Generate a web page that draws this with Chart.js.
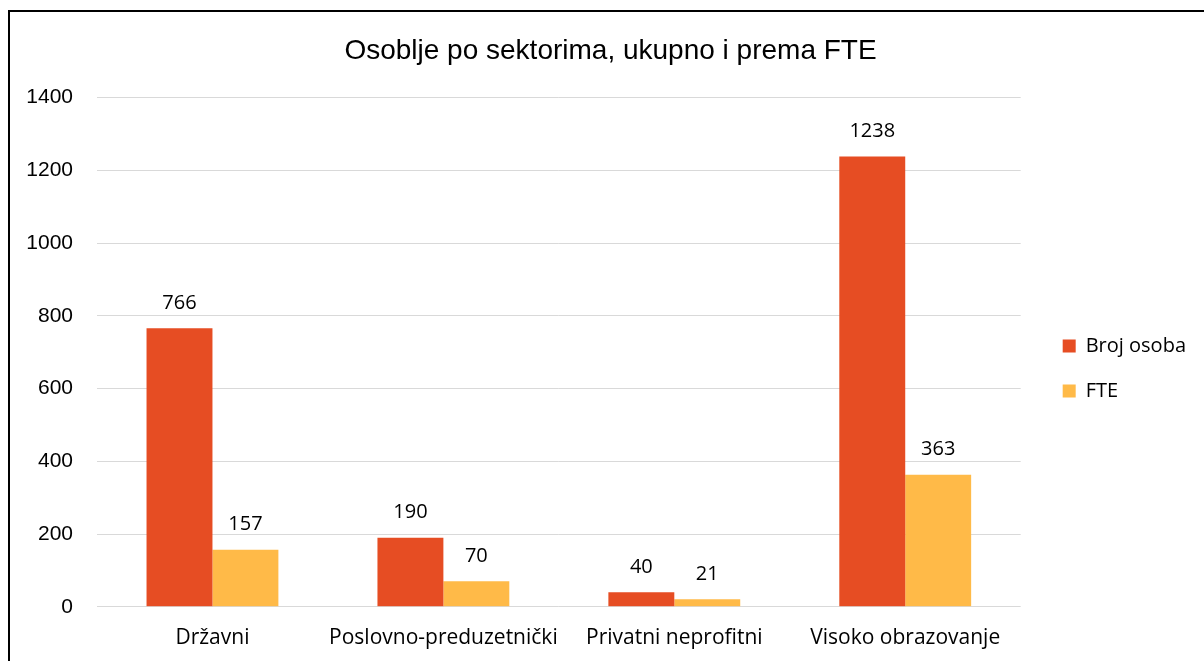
<!DOCTYPE html>
<html>
<head>
<meta charset="utf-8">
<title>Osoblje po sektorima</title>
<script src="https://cdn.jsdelivr.net/npm/chart.js@4.4.1/dist/chart.umd.min.js"></script>
<style>
    html, body { margin: 0; padding: 0; background: #fff; overflow: hidden; }
    #wrap { position: relative; width: 1204px; height: 661px; }
    #frame {
        position: absolute; left: 8px; top: 10px; width: 1400px; height: 900px;
        border-top: 2px solid #000; border-left: 2px solid #000;
        pointer-events: none;
    }
</style>
</head>
<body>
<div id="wrap">
    <canvas id="staffChart" width="1204" height="661"></canvas>
    <div id="frame"></div>
</div>
<script>
// Sectors and values
const sectors = ['Državni', 'Poslovno-preduzetnički', 'Privatni neprofitni', 'Visoko obrazovanje'];
const headcount = [766, 190, 40, 1238];
const fte = [157, 70, 21, 363];
const yTicks = [0, 200, 400, 600, 800, 1000, 1200, 1400];

const ctx = document.getElementById('staffChart').getContext('2d');

// Value labels above each bar
const barLabels = {
    id: 'barLabels',
    afterDatasetsDraw(chart) {
        const c = chart.ctx;
        c.save();
        c.font = '20px "Open Sans"';
        c.fillStyle = '#000';
        c.textAlign = 'center';
        c.textBaseline = 'middle';
        chart.data.datasets.forEach((ds, i) => {
            chart.getDatasetMeta(i).data.forEach((bar, j) => {
                c.fillText(ds.data[j], bar.x, bar.y - 25);
            });
        });
        c.restore();
    }
};

new Chart(ctx, {
    type: 'bar',
    data: {
        labels: sectors,
        datasets: [{
            label: 'Broj osoba',
            data: headcount,
            backgroundColor: '#E64D23',
            categoryPercentage: 0.571,
            barPercentage: 1
        }, {
            label: 'FTE',
            data: fte,
            backgroundColor: '#FFBA48',
            categoryPercentage: 0.571,
            barPercentage: 1
        }]
    },
    options: {
        responsive: false,
        animation: false,
        layout: { padding: { left: 25, right: 8, top: 0, bottom: -1 } },
        plugins: {
            tooltip: { enabled: false },
            title: {
                display: true,
                text: 'Osoblje po sektorima, ukupno i prema FTE',
                color: '#000',
                font: { family: '"Liberation Sans", Arial, sans-serif', size: 28, weight: 'normal' },
                padding: { top: 34, bottom: 30 }
            },
            legend: {
                position: 'right',
                title: { display: true, text: ' ', font: { size: 10 }, padding: { top: 63, bottom: 0 } },
                labels: {
                    boxWidth: 13,
                    boxHeight: 13,
                    padding: 25,
                    color: '#000',
                    font: { family: '"Open Sans"', size: 20 }
                }
            }
        },
        scales: {
            x: {
                grid: { display: false },
                border: { display: false },
                ticks: {
                    color: '#000',
                    padding: 11,
                    maxRotation: 0,
                    minRotation: 0,
                    autoSkip: false,
                    font: { family: '"Open Sans"', size: 21 }
                }
            },
            y: {
                min: 0,
                max: 1400,
                afterBuildTicks(scale) {
                    scale.ticks = yTicks.map(v => ({ value: v }));
                },
                afterFit(scale) { scale.width = 72; },
                grid: { color: '#d9d9d9', lineWidth: 1, drawTicks: false },
                border: { display: false },
                ticks: {
                    color: '#000',
                    padding: 24,
                    callback: v => String(v),
                    font: { family: '"Liberation Sans", Arial, sans-serif', size: 21 }
                }
            },
            // empty spacer between plot and legend
            gap: {
                position: 'right',
                grid: { display: false },
                border: { display: false },
                ticks: { display: false },
                afterFit(scale) { scale.width = 17; }
            }
        }
    },
    plugins: [barLabels]
});
</script>
</body>
</html>
